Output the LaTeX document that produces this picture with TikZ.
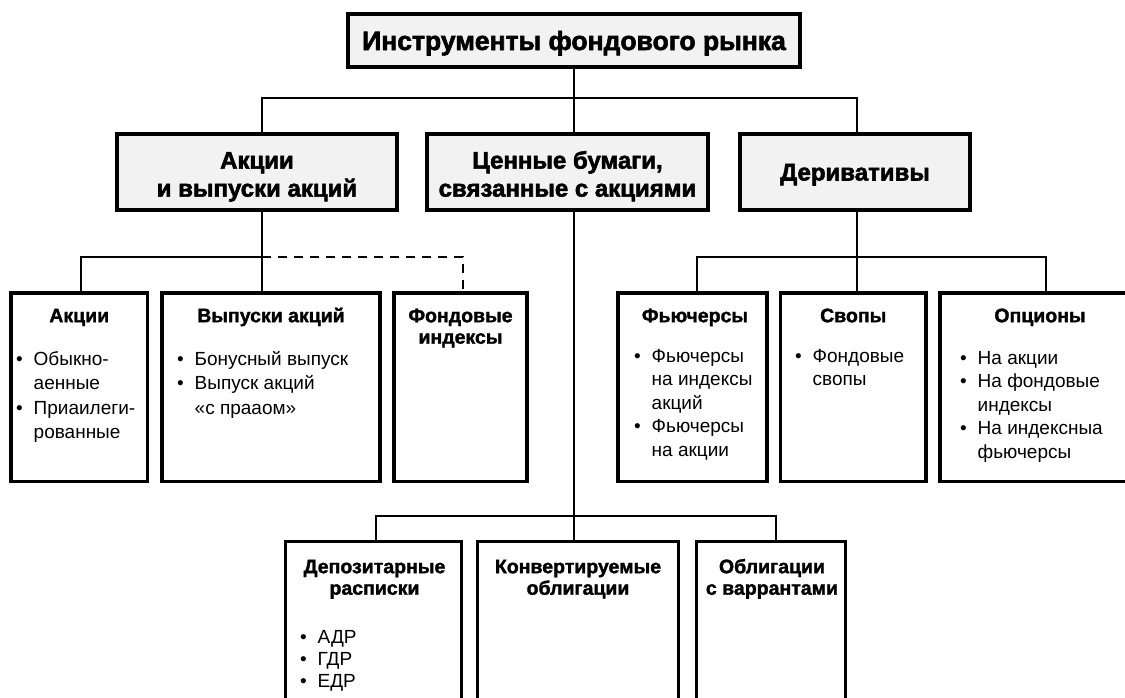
\documentclass[tikz,border=0pt]{standalone}
\usepackage{fontspec}
\setmainfont{Liberation Sans}
\newfontfamily\heavyfont{Liberation Sans Bold}[FakeBold=2.2]
\newfontfamily\semiheavy{Liberation Sans Bold}[FakeBold=1.6]
\newcommand{\mybul}{\makebox[17.5pt][l]{•}}
\newcommand{\myind}{\hspace*{17.5pt}}
\begin{document}
\begin{tikzpicture}[x=1pt,y=-1pt,
  box/.style={draw, line width=3.2pt, inner sep=0pt},
  topbox/.style={box, fill=black!5},
  conn/.style={line width=2.8pt},
  dconn/.style={line width=2.8pt, dash pattern=on 9pt off 7pt},
  ttl/.style={font=\fontsize{26.5}{30}\heavyfont, inner sep=0pt, anchor=base},
  lvtwo/.style={font=\fontsize{24}{28}\heavyfont, align=center, inner sep=0pt, anchor=north},
  lvtwoone/.style={font=\fontsize{24}{28}\heavyfont, inner sep=0pt, anchor=base},
  head/.style={font=\fontsize{19.5}{21.5}\semiheavy, align=center, inner sep=0pt, anchor=north},
  list/.style={font=\fontsize{19}{23.5}\selectfont, align=left, inner sep=0pt, anchor=north west},
  llist/.style={list, font=\fontsize{19}{24.5}\selectfont},
  blist/.style={list, font=\fontsize{19}{22}\selectfont},
]
\useasboundingbox (0,0) rectangle (1125,697);

% junction coordinates
\coordinate (xa) at (262,0);
\coordinate (xb) at (574,0);
\coordinate (xc) at (857,0);
\coordinate (xA) at (81,0);
\coordinate (xF) at (463,0);
\coordinate (xFu) at (697,0);
\coordinate (xOp) at (1046,0);
\coordinate (xD) at (376,0);
\coordinate (xO) at (776,0);
\coordinate (bus1) at (0,98);
\coordinate (bus2) at (0,257);
\coordinate (bus3) at (0,516);

% level 1
\node[topbox, minimum width=452pt, minimum height=53pt] (title) at (574,40.5) {};
\node[ttl] (tt) at (574,50) {Инструменты фондового рынка};

% level 2
\node[topbox, minimum width=280pt, minimum height=76pt] (L2a) at (257,172) {};
\node[topbox, minimum width=281pt, minimum height=76pt] (L2b) at (567.5,172) {};
\node[topbox, minimum width=230pt, minimum height=76pt] (L2c) at (855,172) {};
\node[lvtwo] (t2a) at (257,149.4) {\rule{0pt}{19pt}Акции\\и выпуски акций};
\node[lvtwo] (t2b) at (567.5,149.4) {\rule{0pt}{19pt}Ценные бумаги,\\связанные с акциями};
\node[lvtwoone] (t2c) at (855,180.5) {Деривативы};

% level 3 boxes
\node[box, minimum width=136.5pt, minimum height=188.5pt] (Akc) at (79.25,387.25) {};
\node[box, minimum width=218pt, minimum height=188.5pt] (Vyp) at (271,387.25) {};
\node[box, minimum width=133pt, minimum height=188.5pt] (Fond) at (460.5,387.25) {};
\node[box, minimum width=149pt, minimum height=188.5pt] (Fut) at (692.5,387.25) {};
\node[box, minimum width=145.5pt, minimum height=188.5pt] (Svop) at (853.25,387.25) {};
\node[box, minimum width=190pt, minimum height=188.5pt] (Opc) at (1035,387.25) {};

% level 3 texts
\node[head] (hAkc) at (79.25,306) {\rule{0pt}{16pt}Акции};
\node[head] (hVyp) at (271,306) {\rule{0pt}{16pt}Выпуски акций};
\node[head] (hFond) at (460.5,306) {\rule{0pt}{16pt}Фондовые\\индексы};
\node[head] (hFut) at (695,306) {\rule{0pt}{16pt}Фьючерсы};
\node[head] (hSvop) at (853.25,306) {\rule{0pt}{16pt}Свопы};
\node[head] (hOpc) at (1040,306) {\rule{0pt}{16pt}Опционы};

\node[llist] (lAkc) at (16,350) {\rule{0pt}{15pt}\mybul Обыкно-\\\myind аенные\\\mybul Приаилеги-\\\myind рованные};
\node[llist] (lVyp) at (177,350) {\rule{0pt}{15pt}\mybul Бонусный выпуск\\\mybul Выпуск акций\\\myind «с прааом»};
\node[list] (lFut) at (634,347) {\rule{0pt}{15pt}\mybul Фьючерсы\\\myind на индексы\\\myind акций\\\mybul Фьючерсы\\\myind на акции};
\node[list] (lSvop) at (795,347) {\rule{0pt}{15pt}\mybul Фондовые\\\myind свопы};
\node[list] (lOpc) at (960,349) {\rule{0pt}{15pt}\mybul На акции\\\mybul На фондовые\\\myind индексы\\\mybul На индексныа\\\myind фьючерсы};

% bottom boxes (open at the bottom)
\node[inner sep=0pt, minimum width=175pt, minimum height=160pt] (Dep) at (373.5,622) {};
\node[inner sep=0pt, minimum width=200pt, minimum height=160pt] (Konv) at (578,622) {};
\node[inner sep=0pt, minimum width=148pt, minimum height=160pt] (Obl) at (771,622) {};
\draw[box] (Dep.south west) -- (Dep.north west) -- (Dep.north east) -- (Dep.south east);
\draw[box] (Konv.south west) -- (Konv.north west) -- (Konv.north east) -- (Konv.south east);
\draw[box] (Obl.south west) -- (Obl.north west) -- (Obl.north east) -- (Obl.south east);

\node[head] (hDep) at (374.5,557) {\rule{0pt}{16pt}Депозитарные\\расписки};
\node[head] (hKonv) at (578,557) {\rule{0pt}{16pt}Конвертируемые\\облигации};
\node[head] (hObl) at (772,557) {\rule{0pt}{16pt}Облигации\\с варрантами};
\node[blist] (lDep) at (300,628) {\rule{0pt}{15pt}\mybul АДР\\\mybul ГДР\\\mybul ЕДР};

% connectors level 1 -> 2
\draw[conn] (title.south) -- (L2b.north -| title.south);
\draw[conn] (L2a.north -| xa) -- (bus1 -| xa) -- (bus1 -| xc) -- (L2c.north -| xc);

% left group
\draw[conn] (L2a.south -| xa) -- (Vyp.north -| xa);
\draw[conn] (Akc.north -| xA) -- (bus2 -| xA) -- (bus2 -| xa);
\draw[dconn] (bus2 -| xa) -- (bus2 -| xF) -- (Fond.north -| xF);

% right group
\draw[conn] (L2c.south -| xc) -- (Svop.north -| xc);
\draw[conn] (Fut.north -| xFu) -- (bus2 -| xFu) -- (bus2 -| xOp) -- (Opc.north -| xOp);

% middle group
\draw[conn] (L2b.south -| xb) -- (Konv.north -| xb);
\draw[conn] (Dep.north -| xD) -- (bus3 -| xD) -- (bus3 -| xO) -- (Obl.north -| xO);
\end{tikzpicture}
\end{document}
